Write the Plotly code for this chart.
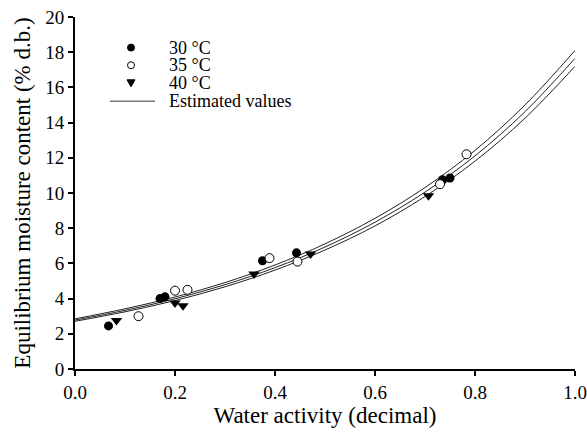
import plotly.graph_objects as go

aw_30 = [0.067, 0.170, 0.180, 0.375, 0.443, 0.735, 0.750]
emc_30 = [2.45, 4.00, 4.10, 6.15, 6.60, 10.75, 10.85]

aw_35 = [0.127, 0.200, 0.225, 0.389, 0.445, 0.730, 0.783]
emc_35 = [3.00, 4.45, 4.50, 6.30, 6.10, 10.50, 12.20]

aw_40 = [0.083, 0.200, 0.216, 0.358, 0.471, 0.707]
emc_40 = [2.75, 3.75, 3.60, 5.40, 6.53, 9.85]

# Estimated (model) curves
aw_fit = [0.0, 0.1, 0.2, 0.3, 0.4, 0.5, 0.6, 0.7, 0.8, 0.9, 1.0]
emc_fit_30 = [2.85, 3.42, 4.09, 4.91, 5.91, 7.11, 8.56, 10.31, 12.42, 15.00, 18.10]
emc_fit_35 = [2.78, 3.33, 3.99, 4.79, 5.76, 6.93, 8.34, 10.05, 12.11, 14.62, 17.65]
emc_fit_40 = [2.71, 3.25, 3.89, 4.67, 5.62, 6.76, 8.13, 9.80, 11.81, 14.25, 17.20]

legend_labels = ["30 °C", "35 °C", "40 °C", "Estimated values"]

FONT = "Liberation Serif, Times New Roman, serif"

fig = go.Figure()

for y in (emc_fit_30, emc_fit_35, emc_fit_40):
    fig.add_trace(go.Scatter(x=aw_fit, y=y, mode="lines", line=dict(color="#222222", width=1, shape="spline"),
                             showlegend=False, hoverinfo="skip"))

fig.add_trace(go.Scatter(x=aw_30, y=emc_30, mode="markers",
                         marker=dict(symbol="circle", size=9, color="black"), showlegend=False))
fig.add_trace(go.Scatter(x=aw_35, y=emc_35, mode="markers",
                         marker=dict(symbol="circle", size=9, color="white", line=dict(color="black", width=1)),
                         showlegend=False))
fig.add_trace(go.Scatter(x=aw_40, y=emc_40, mode="markers",
                         marker=dict(symbol="triangle-down", size=10, color="black"), showlegend=False))

# Manual legend (layout elements)
lx = 0.112
rows = [0.913, 0.863, 0.813, 0.761]
shapes = [
    dict(type="circle", xref="paper", yref="paper", xsizemode="pixel", ysizemode="pixel",
         xanchor=lx, yanchor=rows[0], x0=-3.5, x1=3.5, y0=-3.5, y1=3.5,
         fillcolor="black", line=dict(color="black", width=1)),
    dict(type="circle", xref="paper", yref="paper", xsizemode="pixel", ysizemode="pixel",
         xanchor=lx, yanchor=rows[1], x0=-3.5, x1=3.5, y0=-3.5, y1=3.5,
         fillcolor="white", line=dict(color="black", width=1)),
    dict(type="path", xref="paper", yref="paper", xsizemode="pixel", ysizemode="pixel",
         xanchor=lx, yanchor=rows[2], path="M-4,3 L4,3 L0,-4 Z",
         fillcolor="black", line=dict(color="black", width=1)),
    dict(type="line", xref="paper", yref="paper", x0=0.07, x1=0.16, y0=rows[3], y1=rows[3],
         line=dict(color="#777777", width=1.5)),
]
annotations = [
    dict(x=0.184, y=r, xref="paper", yref="paper", text=t, showarrow=False,
         xanchor="left", yanchor="middle", font=dict(family=FONT, size=18, color="black"))
    for r, t in zip(rows, legend_labels)
]

fig.update_layout(
    width=587, height=434,
    margin=dict(l=75, r=12, t=17, b=65),
    paper_bgcolor="white", plot_bgcolor="white",
    font=dict(family=FONT, size=19, color="black"),
    shapes=shapes, annotations=annotations,
    showlegend=False,
)
fig.update_xaxes(range=[0, 1.0], tickmode="linear", tick0=0, dtick=0.2, tickformat=".1f",
                 showline=True, linecolor="black", linewidth=2, ticks="outside", ticklen=5,
                 tickwidth=1.5, tickcolor="black", showgrid=False, zeroline=False, automargin=False,
                 title=dict(text="Water activity (decimal)", standoff=0))
fig.update_yaxes(range=[0, 20], tickmode="linear", tick0=0, dtick=2,
                 showline=True, linecolor="black", linewidth=2, ticks="outside", ticklen=5,
                 tickwidth=1.5, tickcolor="black", showgrid=False, zeroline=False, automargin=False,
                 title=dict(text="Equilibrium moisture content (% d.b.)", standoff=8))

fig.write_html("out.html", config={"displayModeBar": False},
               post_script="document.body.style.margin='0';document.body.style.overflow='hidden';")
